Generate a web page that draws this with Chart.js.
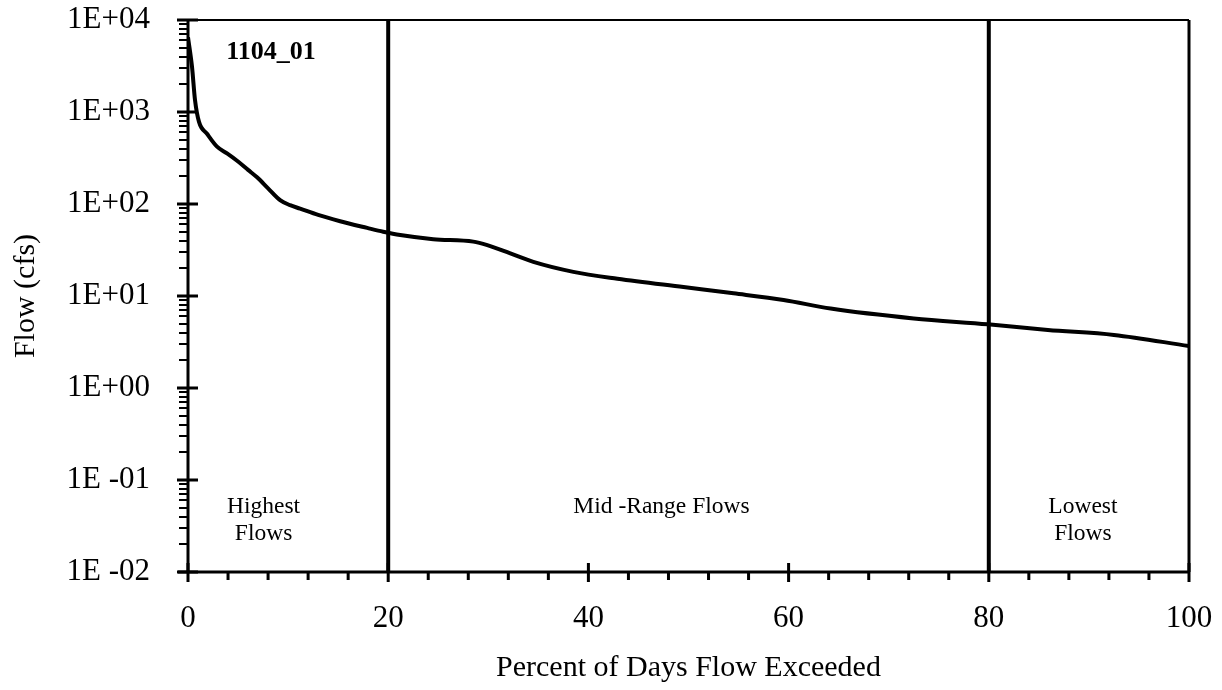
<!DOCTYPE html>
<html>
<head>
<meta charset="utf-8">
<script src="https://cdn.jsdelivr.net/npm/chart.js@4.4.1/dist/chart.umd.min.js"></script>
<style>
  html, body { margin: 0; padding: 0; background: #fff; }
  #wrap { width: 1222px; height: 690px; position: relative; }
</style>
</head>
<body>
<div id="wrap"><canvas id="flowChart"></canvas></div>
<script>
// ---------- data ----------
const pctExceeded = [0, 0.4, 0.7, 1.1, 1.9, 2.9, 3.9, 5.0, 6.0, 6.9, 8.0, 9.2, 10.2, 11.2, 13.0,
  15.2, 17.9, 19.5, 21.2, 24.5, 28.5, 29.9, 32.2, 34.5, 38.5, 42.9, 49.5, 54.5, 59.5, 64.2,
  72.5, 79.9, 85.9, 92.5, 100];
const flowCfs = [6500, 3100, 1350, 780, 580, 420, 355, 290, 235, 195, 148, 110, 97, 89, 76,
  65, 55, 50, 46, 41.5, 39, 35.7, 29, 23.5, 18.3, 15.4, 12.5, 10.7, 9.05, 7.3,
  5.7, 4.92, 4.27, 3.77, 2.86];

const zoneBounds = [20, 80];
const yDecades = [0.01, 0.1, 1, 10, 100, 1000, 10000];
const yTickLabels = ["1E -02", "1E -01", "1E+00", "1E+01", "1E+02", "1E+03", "1E+04"];
const xTicks = [0, 20, 40, 60, 80, 100];

const stationLabel = "1104_01";
const zoneLabels = [
  { lines: ["Highest", "Flows"], x: 7.55 },
  { lines: ["Mid -Range Flows"], x: 47.3 },
  { lines: ["Lowest", "Flows"], x: 89.4 },
];

const FONT = "'Liberation Serif', 'Times New Roman', serif";

// ---------- frame, ticks, labels ----------
const framePlugin = {
  id: "frame",
  afterDraw(chart) {
    const { ctx, chartArea: a, scales } = chart;
    const xs = scales.x, ys = scales.y;
    ctx.save();
    ctx.strokeStyle = "#000";
    ctx.lineCap = "butt";

    // box
    ctx.lineWidth = 2;
    ctx.beginPath();
    ctx.moveTo(a.left, a.top); ctx.lineTo(a.right, a.top);
    ctx.stroke();
    ctx.lineWidth = 3;
    ctx.beginPath();
    ctx.moveTo(a.right, a.top); ctx.lineTo(a.right, a.bottom);
    ctx.moveTo(a.left, a.top - 1); ctx.lineTo(a.left, a.bottom);
    ctx.moveTo(a.left - 10, a.bottom); ctx.lineTo(a.right + 1, a.bottom);
    ctx.stroke();

    // y ticks (log): majors cross, minors outside
    ctx.lineWidth = 3;
    ctx.beginPath();
    yDecades.forEach(v => {
      const py = ys.getPixelForValue(v);
      ctx.moveTo(a.left - 11, py); ctx.lineTo(a.left + 10, py);
    });
    ctx.stroke();
    ctx.lineWidth = 2;
    ctx.beginPath();
    for (let i = 0; i < yDecades.length - 1; i++) {
      for (let m = 2; m <= 9; m++) {
        const py = Math.round(ys.getPixelForValue(yDecades[i] * m));
        ctx.moveTo(a.left - 9, py); ctx.lineTo(a.left, py);
      }
    }
    ctx.stroke();

    // x ticks: majors cross, minors every 4 below
    ctx.lineWidth = 3;
    ctx.beginPath();
    xTicks.forEach(v => {
      const px = xs.getPixelForValue(v);
      ctx.moveTo(px, a.bottom - 9); ctx.lineTo(px, a.bottom + 10);
    });
    ctx.stroke();
    ctx.beginPath();
    for (let v = 4; v < 100; v += 4) {
      if (v % 20 === 0) continue;
      const px = xs.getPixelForValue(v);
      ctx.moveTo(px, a.bottom); ctx.lineTo(px, a.bottom + 8);
    }
    ctx.stroke();

    // text
    ctx.fillStyle = "#000";
    ctx.textAlign = "center";
    ctx.textBaseline = "middle";
    ctx.font = "bold 26px " + FONT;
    ctx.fillText(stationLabel, xs.getPixelForValue(8.3), ys.getPixelForValue(4450));

    ctx.font = "23.5px " + FONT;
    const y0 = ys.getPixelForValue(0.051);
    zoneLabels.forEach(z => {
      z.lines.forEach((t, i) => {
        ctx.fillText(t, xs.getPixelForValue(z.x), y0 + i * 27);
      });
    });
    ctx.restore();
  }
};

const ctx = document.getElementById("flowChart").getContext("2d");

const curve = pctExceeded.map((x, i) => ({ x, y: flowCfs[i] }));
const dividers = zoneBounds.map(b => ({
  data: [{ x: b, y: yDecades[0] }, { x: b, y: yDecades[yDecades.length - 1] }],
  borderColor: "#000",
  borderWidth: 4,
  pointRadius: 0,
  showLine: true,
  fill: false,
}));

// keep the plot box where the reference has it (no label overhang padding)
const noPad = s => { s.paddingTop = 0; s.paddingBottom = 0; s.paddingLeft = 0; s.paddingRight = 0; };

new Chart(ctx, {
  type: "scatter",
  data: {
    datasets: [
      {
        data: curve,
        borderColor: "#000",
        borderWidth: 4,
        pointRadius: 0,
        showLine: true,
        fill: false,
        cubicInterpolationMode: "monotone",
      },
      ...dividers,
    ]
  },
  options: {
    responsive: true,
    maintainAspectRatio: false,
    animation: false,
    devicePixelRatio: 1,
    layout: { autoPadding: false, padding: { top: 20, right: 33, left: 0, bottom: 0 } },
    plugins: {
      legend: { display: false },
      tooltip: { enabled: false },
    },
    scales: {
      x: {
        type: "linear",
        min: 0, max: 100,
        afterBuildTicks: s => { s.ticks = xTicks.map(v => ({ value: v })); },
        afterFit: s => { s.height = 118; noPad(s); },
        grid: { display: false, drawTicks: false },
        border: { display: false },
        ticks: {
          color: "#000",
          font: { family: FONT, size: 31 },
          padding: 28,
          maxRotation: 0,
        },
        title: {
          display: true,
          text: "Percent of Days Flow Exceeded",
          color: "#000",
          font: { family: FONT, size: 30 },
          padding: { top: 0, bottom: 4 },
        }
      },
      y: {
        type: "logarithmic",
        min: 0.01, max: 10000,
        afterBuildTicks: s => { s.ticks = yDecades.map(v => ({ value: v })); },
        afterFit: s => { s.width = 188; noPad(s); },
        grid: { display: false, drawTicks: false },
        border: { display: false },
        ticks: {
          color: "#000",
          font: { family: FONT, size: 31 },
          padding: 38,
          callback: (v) => {
            const i = yDecades.findIndex(d => Math.abs(d - v) / d < 1e-6);
            return i >= 0 ? yTickLabels[i] : "";
          }
        },
        title: {
          display: true,
          text: "Flow (cfs)",
          color: "#000",
          font: { family: FONT, size: 30 },
          padding: { top: 8, bottom: 0 },
        }
      }
    }
  },
  plugins: [framePlugin]
});
</script>
</body>
</html>
